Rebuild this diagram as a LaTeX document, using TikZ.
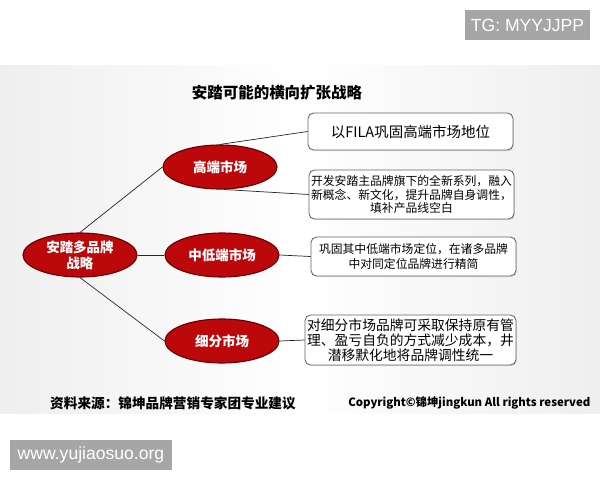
\documentclass[tikz,border=0pt]{standalone}
\usepackage{fontspec}
\setmainfont{Noto Sans CJK SC}
\newfontfamily\latinsans{Liberation Sans}
\usetikzlibrary{shapes.geometric,shadows}
\definecolor{ellred}{RGB}{188,8,10}
\definecolor{elldark}{RGB}{105,0,0}
\definecolor{boxline}{RGB}{95,100,105}
\definecolor{tagbg}{RGB}{166,166,166}

\begin{document}
\begin{tikzpicture}[x=0.025cm,y=-0.025cm]
        \tikzset{market/.style = {ellipse,fill=ellred,draw=elldark,line width=0.8pt,text=white,font=\bfseries\fontsize{9.6}{11.5}\selectfont,minimum width=2.85cm,minimum height=1.1cm,inner sep=0pt,align=center}};
        \tikzset{note/.style = {rectangle,rounded corners=4pt,fill=white,draw=boxline,line width=0.6pt,drop shadow={opacity=0.25,shadow xshift=0.6pt,shadow yshift=-0.8pt},align=center,inner sep=0pt}};
        \tikzset{tag/.style = {fill=tagbg,text=white,font=\latinsans\fontsize{12.5}{14}\selectfont,inner sep=0pt}};
        \tikzset{wire/.style = {draw=black!85,line width=0.5pt}};
        \useasboundingbox (0,0) rectangle (600,480);
        \fill[white] (0,0) rectangle (600,480);
        \shade[left color=gray!13,right color=gray!13,middle color=white] (0,65) rectangle (600,413);
        \node[tag,minimum width=3.125cm,minimum height=0.75cm] (tg) at (527.5,25) {TG: MYYJJPP};
        \node[tag,minimum width=4.05cm,minimum height=0.75cm] (www) at (91,455) {www.yujiaosuo.org};
        \node[font=\bfseries\fontsize{11}{13}\selectfont] (title) at (277,93) {安踏可能的横向扩张战略};
        \node[market] (root) at (80,255) {安踏多品牌\\战略};
        \node[market] (high) at (220,167) {高端市场};
        \node[market] (mid) at (222,255) {中低端市场};
        \node[market] (seg) at (222,341) {细分市场};
        \node[note,minimum width=5.125cm,minimum height=0.925cm,font=\fontsize{10.3}{12}\selectfont] (b1) at (410.5,131.5) {以FILA巩固高端市场地位};
        \node[note,minimum width=5.125cm,minimum height=1.225cm,font=\fontsize{8.4}{9.6}\selectfont] (b2) at (411.5,194.5) {开发安踏主品牌旗下的全新系列，融入\\新概念、新文化，提升品牌自身调性，\\填补产品线空白};
        \node[note,minimum width=5.125cm,minimum height=0.975cm,font=\fontsize{8.4}{10}\selectfont] (b3) at (413.5,256.5) {巩固其中低端市场定位，在诸多品牌\\中对同定位品牌进行精简};
        \node[note,minimum width=5.275cm,minimum height=1.25cm,font=\fontsize{9.8}{10.6}\selectfont] (b4) at (410.5,340) {对细分市场品牌可采取保持原有管\\理、盈亏自负的方式减少成本，井\\潜移默化地将品牌调性统一};
        \draw[wire] (root.north) to (high.west);
        \draw[wire] (root.east) to (mid.west);
        \draw[wire] (root.south) to (seg.west);
        \draw[wire] (high.north) to (b1.west);
        \draw[wire] (high.-80) to (b2.west);
        \draw[wire] (mid.east) to (b3.west);
        \draw[wire] (seg.east) to (b4.west);
        \node[font=\bfseries\fontsize{9.7}{11}\selectfont] (src) at (173,403) {资料来源：锦坤品牌营销专家团专业建议};
        \node[font=\bfseries\fontsize{8.1}{9}\selectfont,anchor=west,inner sep=0pt] (copy) at (348,403) {Copyright©锦坤jingkun All rights reserved};
    \end{tikzpicture}
\end{document}
